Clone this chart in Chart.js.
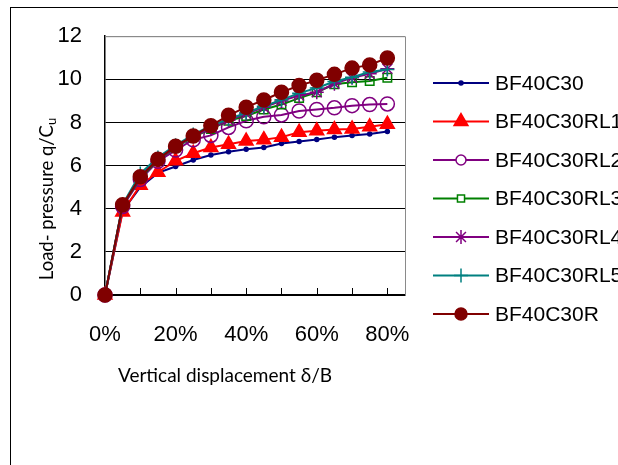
<!DOCTYPE html>
<html>
<head>
<meta charset="utf-8">
<script src="https://cdn.jsdelivr.net/npm/chart.js@4.4.0/dist/chart.umd.min.js"></script>
<style>
html,body{margin:0;padding:0;background:#fff;}
#wrap{width:618px;height:465px;position:relative;}
</style>
</head>
<body>
<div id="wrap"><canvas id="c" width="618" height="465"></canvas></div>
<script>
const xValues = [0, 0.05, 0.10, 0.15, 0.20, 0.25, 0.30, 0.35, 0.40, 0.45, 0.50, 0.55, 0.60, 0.65, 0.70, 0.75, 0.80];
const seriesNames = ["BF40C30", "BF40C30RL1", "BF40C30RL2", "BF40C30RL3", "BF40C30RL4", "BF40C30RL5", "BF40C30R"];
const BF40C30   = [0, 3.90, 5.00, 5.66, 5.96, 6.26, 6.49, 6.64, 6.76, 6.84, 7.02, 7.12, 7.21, 7.32, 7.40, 7.47, 7.58];
const BF40C30RL1= [0, 3.85, 5.09, 5.69, 6.22, 6.57, 6.84, 6.99, 7.14, 7.20, 7.32, 7.55, 7.62, 7.67, 7.70, 7.80, 7.92];
const BF40C30RL2= [0, 4.10, 5.35, 6.20, 6.72, 7.20, 7.40, 7.77, 8.08, 8.26, 8.35, 8.53, 8.60, 8.68, 8.78, 8.83, 8.86];
const BF40C30RL3= [0, 4.15, 5.43, 6.26, 6.84, 7.32, 7.70, 8.08, 8.30, 8.60, 8.83, 9.13, 9.40, 9.77, 9.86, 9.92, 10.07];
const BF40C30RL4= [0, 4.15, 5.50, 6.29, 6.87, 7.35, 7.74, 8.10, 8.40, 8.70, 9.00, 9.25, 9.40, 9.80, 10.07, 10.26, 10.49];
const BF40C30RL5= [0, 4.20, 5.63, 6.38, 6.94, 7.44, 7.85, 8.15, 8.45, 8.75, 9.05, 9.36, 9.60, 9.90, 10.10, 10.34, 10.46];
const BF40C30R  = [0, 4.18, 5.48, 6.29, 6.90, 7.37, 7.85, 8.33, 8.71, 9.04, 9.40, 9.71, 9.96, 10.23, 10.52, 10.67, 10.99];
const xTickLabels = [0, 0.2, 0.4, 0.6, 0.8];
const xMinorTicks = [0.1, 0.2, 0.3, 0.4, 0.5, 0.6, 0.7, 0.8];
const yTicks = [0, 2, 4, 6, 8, 10, 12];

const allSeries = [BF40C30, BF40C30RL1, BF40C30RL2, BF40C30RL3, BF40C30RL4, BF40C30RL5, BF40C30R];
const styles = [
  {color:'#000080', fill:'#000080', point:'circle', r:2, lr:2, filled:true},
  {color:'#FF0000', fill:'#FF0000', point:'triangle', r:8, lr:8, filled:true},
  {color:'#800080', fill:'rgba(0,0,0,0)', point:'circle', r:7, lr:5, filled:false},
  {color:'#008000', fill:'rgba(0,0,0,0)', point:'rect', r:6, lr:5, filled:false},
  {color:'#800080', fill:'rgba(0,0,0,0)', point:'star', r:7, lr:7, filled:false},
  {color:'#008080', fill:'rgba(0,0,0,0)', point:'cross', r:7, lr:7, filled:false},
  {color:'#800000', fill:'#800000', point:'circle', r:7, lr:6, filled:true}
];

const datasets = allSeries.map((vals, i) => ({
  label: seriesNames[i],
  data: xValues.map((x, j) => ({x: x, y: vals[j]})),
  borderColor: styles[i].color,
  backgroundColor: styles[i].fill,
  pointStyle: styles[i].point,
  pointRadius: styles[i].r,
  pointBorderColor: styles[i].color,
  pointBackgroundColor: styles[i].fill,
  pointBorderWidth: 1.5,
  borderWidth: 2,
  tension: 0,
  showLine: true,
  clip: false,
  order: 6 - i
}));

const decor = {
  id: 'decor',
  afterDraw(chart) {
    const ctx = chart.ctx;
    const xs = chart.scales.x, ys = chart.scales.y;
    const ca = chart.chartArea;
    ctx.save();
    // outer border
    ctx.strokeStyle = '#000';
    ctx.lineWidth = 1;
    ctx.strokeRect(10.5, 7.5, 800, 800);
    // right/top plot border
    ctx.strokeStyle = '#8a8a8a';
    ctx.beginPath();
    ctx.moveTo(ca.left, ys.getPixelForValue(12) + 0.5);
    ctx.lineTo(ca.right + 0.5, ys.getPixelForValue(12) + 0.5);
    ctx.lineTo(ca.right + 0.5, ys.getPixelForValue(0));
    ctx.stroke();
    // inner minor ticks on x axis
    ctx.strokeStyle = '#000';
    ctx.lineWidth = 1;
    const yb = ys.getPixelForValue(0);
    xMinorTicks.forEach(v => {
      const px = Math.round(xs.getPixelForValue(v)) + 0.5;
      ctx.beginPath();
      ctx.moveTo(px, yb);
      ctx.lineTo(px, yb - 7);
      ctx.stroke();
    });
    // axis titles
    ctx.fillStyle = '#000';
    ctx.font = '19px Lato';
    ctx.textBaseline = 'middle';
    ctx.textAlign = 'center';
    ctx.fillText('Vertical displacement \u03b4/B', 225, 376);
    ctx.save();
    ctx.translate(47, 199);
    ctx.rotate(-Math.PI / 2);
    const main = 'Load- pressure q/C';
    ctx.font = '18.5px Lato';
    const w1 = ctx.measureText(main).width;
    ctx.font = '13px Lato';
    const w2 = ctx.measureText('u').width;
    const tw = w1 + w2;
    ctx.textAlign = 'left';
    ctx.font = '18.5px Lato';
    ctx.fillText(main, -tw / 2, 0);
    ctx.font = '13px Lato';
    ctx.fillText('u', -tw / 2 + w1, 5);
    ctx.restore();
    // legend
    const lx0 = 433, lx1 = 489, ly0 = 83, ldy = 38.5;
    const drawPoint = (Chart.helpers && Chart.helpers.drawPoint) ? Chart.helpers.drawPoint : null;
    chart.data.datasets.forEach((ds, i) => {
      const y = ly0 + i * ldy;
      const st = styles[i];
      ctx.strokeStyle = st.color;
      ctx.lineWidth = 2;
      ctx.beginPath();
      ctx.moveTo(lx0, y);
      ctx.lineTo(lx1, y);
      ctx.stroke();
      if (drawPoint) {
        ctx.fillStyle = st.filled ? st.fill : '#fff';
        ctx.strokeStyle = st.color;
        ctx.lineWidth = 1.5;
        drawPoint(ctx, {pointStyle: st.point, radius: st.lr, borderWidth: 1.5, rotation: 0}, (lx0 + lx1) / 2, y);
      }
      ctx.fillStyle = '#000';
      ctx.font = '21px "Liberation Sans", Arial, sans-serif';
      ctx.textAlign = 'left';
      ctx.textBaseline = 'middle';
      ctx.fillText(ds.label, 495, y + 1);
    });
    ctx.restore();
  }
};

new Chart(document.getElementById('c'), {
  type: 'scatter',
  data: { datasets },
  options: {
    responsive: false,
    animation: false,
    events: [],
    layout: { padding: { left: 0, top: 30, right: 213, bottom: 0 } },
    plugins: { legend: { display: false }, tooltip: { enabled: false } },
    scales: {
      x: {
        type: 'linear',
        min: 0,
        max: 0.85,
        afterBuildTicks(scale) { scale.ticks = xTickLabels.map(v => ({value: v})); },
        afterFit(scale) { scale.height = 170; },
        grid: { display: true, drawOnChartArea: false, drawTicks: false, tickLength: 0 },
        border: { display: true, color: '#000', width: 1.5 },
        ticks: {
          padding: 27,
          color: '#000',
          font: { family: '"Liberation Sans", Arial, sans-serif', size: 22 },
          callback: v => Math.round(v * 100) + '%',
          maxRotation: 0,
          autoSkip: false
        }
      },
      y: {
        type: 'linear',
        min: 0,
        max: 12,
        afterBuildTicks(scale) { scale.ticks = yTicks.map(v => ({value: v})); },
        afterFit(scale) { scale.width = 105; },
        grid: {
          color: ctx => (ctx.tick && ctx.tick.value === 12) ? '#8a8a8a' : '#000',
          lineWidth: 1,
          drawTicks: false,
          tickLength: 0
        },
        border: { display: true, color: '#000', width: 1.5 },
        ticks: {
          padding: 23,
          color: '#000',
          font: { family: '"Liberation Sans", Arial, sans-serif', size: 22 }
        }
      }
    }
  },
  plugins: [decor]
});
</script>
</body>
</html>
